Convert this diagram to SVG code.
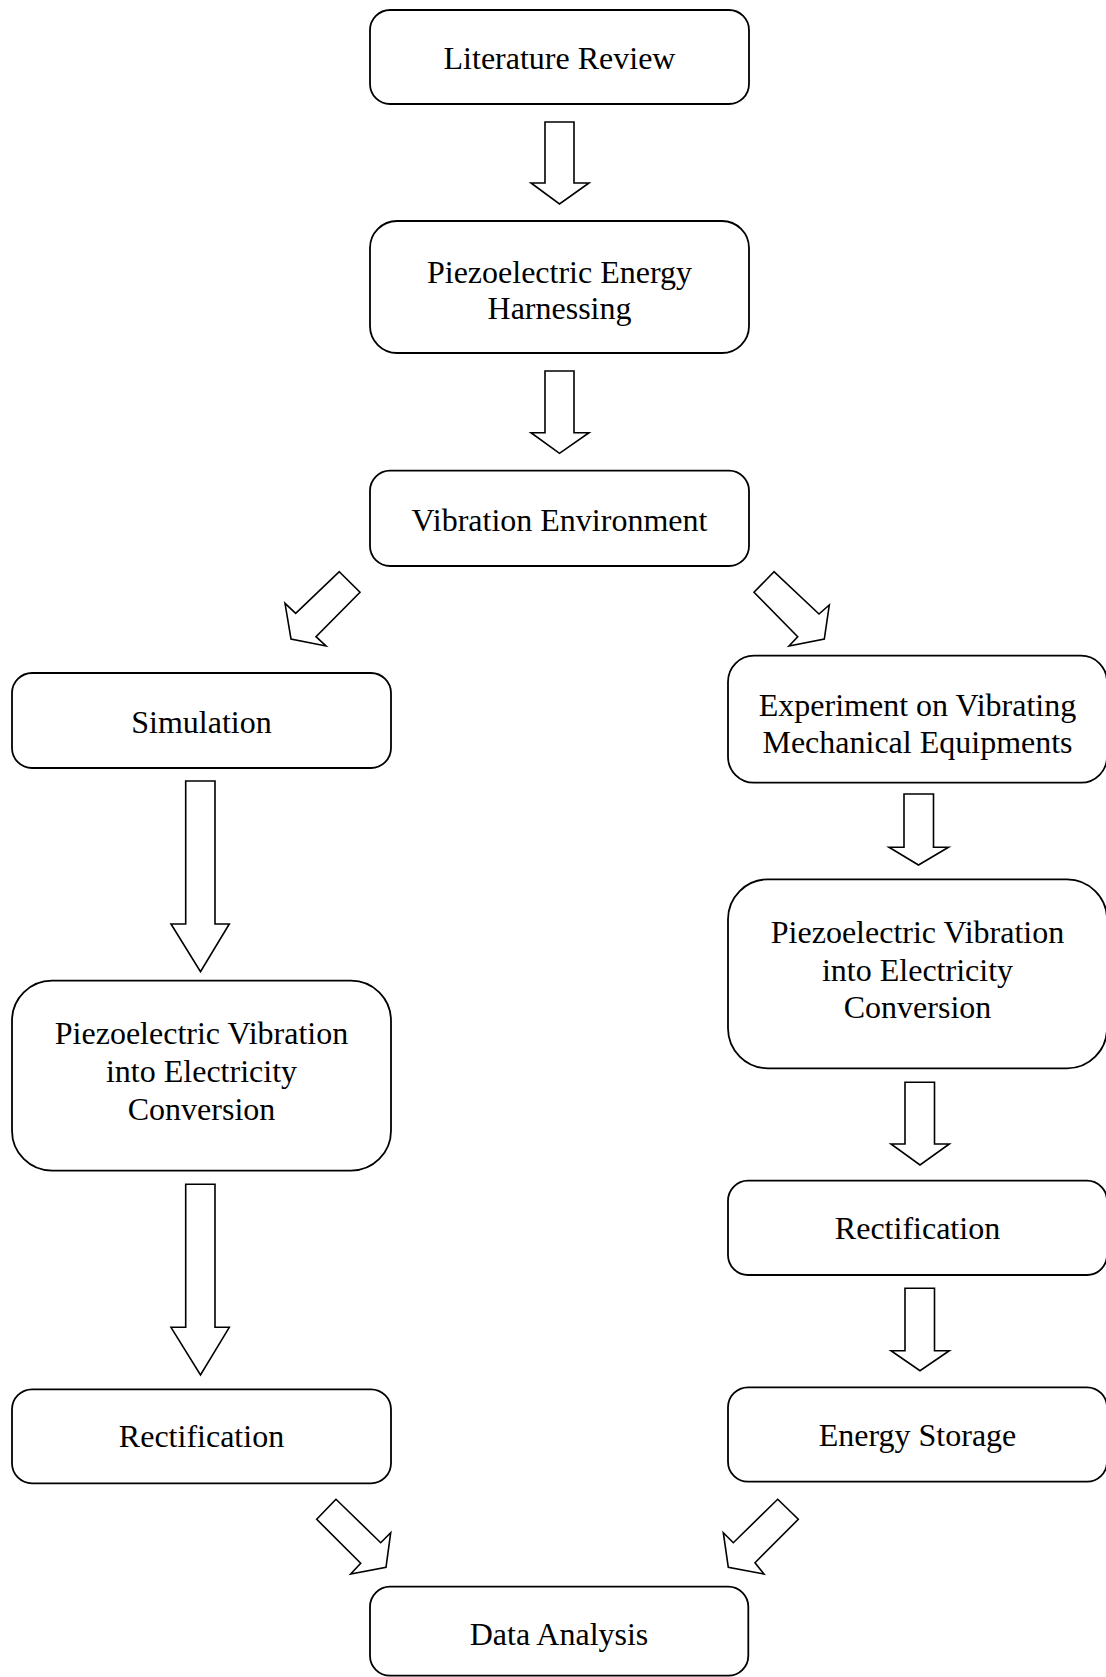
<svg xmlns="http://www.w3.org/2000/svg" width="1106" height="1677" viewBox="0 0 1106 1677">
<style>
.box{fill:#fff;stroke:#000;stroke-width:1.8}
.arr{fill:#fff;stroke:#000;stroke-width:1.6;stroke-linejoin:miter}
text{font-family:"Liberation Serif","Times New Roman",serif;font-size:32px;fill:#000;text-anchor:middle}
</style>
<rect width="1106" height="1677" fill="#fff"/>
<g id="connectors">
<polygon class="arr" points="545,122 574,122 574,183 589,183 559.5,204 531,183 545,183"/>
<polygon class="arr" points="545,371 574,371 574,432.7 589,432.7 559.5,453.3 531,432.7 545,432.7"/>
<polygon class="arr" points="339.3,571.7 360,592.3 316,636.7 326,646 291,639 285,603.3 295.7,613.3"/>
<polygon class="arr" points="774,571.7 754,592.3 797.7,636.7 789,646 824.3,639 829.3,605 819,614"/>
<polygon class="arr" points="185.7,781 215,781 215,924 229.3,924 200.5,971.7 171,924 185.7,924"/>
<polygon class="arr" points="185.7,1184.3 215,1184.3 215,1327.3 229.3,1327.3 200.5,1375 171,1327.3 185.7,1327.3"/>
<polygon class="arr" points="904,794 933.5,794 933.5,847.3 948.5,847.3 918.5,865 889,847.3 904,847.3"/>
<polygon class="arr" points="905,1082.3 934.5,1082.3 934.5,1144 949.3,1144 920,1165 891,1144 905,1144"/>
<polygon class="arr" points="905,1288.3 934.5,1288.3 934.5,1350.7 949.3,1350.7 920,1370.7 891,1350.7 905,1350.7"/>
<polygon class="arr" points="336,1499.3 316.7,1519.3 360.7,1563.3 350.7,1574 386,1567.3 390.7,1532.7 380.7,1542.7"/>
<polygon class="arr" points="777.7,1499.3 798.3,1519.3 755,1562.7 764,1574 728.3,1567.3 723.3,1532.7 733.3,1542.7"/>
</g>
<g id="literature-review">
<rect class="box" x="370" y="10" width="379" height="94" rx="20"/>
<text x="559.5" y="69">Literature Review</text>
</g>
<g id="piezo-energy-harnessing">
<rect class="box" x="370" y="221" width="379" height="132" rx="27"/>
<text x="559.5" y="283">Piezoelectric Energy</text>
<text x="559.5" y="319">Harnessing</text>
</g>
<g id="vibration-environment">
<rect class="box" x="370" y="470.7" width="379" height="95.3" rx="20"/>
<text x="559.5" y="530.7">Vibration Environment</text>
</g>
<g id="simulation">
<rect class="box" x="12" y="673" width="379" height="95" rx="20"/>
<text x="201.5" y="733">Simulation</text>
</g>
<g id="experiment">
<rect class="box" x="728" y="655.7" width="379" height="127" rx="26"/>
<text x="917.5" y="716">Experiment on Vibrating</text>
<text x="917.5" y="753">Mechanical Equipments</text>
</g>
<g id="piezo-conversion-left">
<rect class="box" x="12" y="980.7" width="379" height="190" rx="40"/>
<text x="201.5" y="1044">Piezoelectric Vibration</text>
<text x="201.5" y="1082">into Electricity</text>
<text x="201.5" y="1120">Conversion</text>
</g>
<g id="piezo-conversion-right">
<rect class="box" x="728" y="879.3" width="379" height="189" rx="40"/>
<text x="917.5" y="943">Piezoelectric Vibration</text>
<text x="917.5" y="980.5">into Electricity</text>
<text x="917.5" y="1018">Conversion</text>
</g>
<g id="rectification-right">
<rect class="box" x="728" y="1180.7" width="379" height="94.3" rx="20"/>
<text x="917.5" y="1239.3">Rectification</text>
</g>
<g id="energy-storage">
<rect class="box" x="728" y="1387.3" width="379" height="94.4" rx="20"/>
<text x="917.5" y="1446">Energy Storage</text>
</g>
<g id="rectification-left">
<rect class="box" x="12" y="1389.3" width="379" height="94" rx="20"/>
<text x="201.5" y="1447.3">Rectification</text>
</g>
<g id="data-analysis">
<rect class="box" x="370" y="1586.7" width="378.3" height="89" rx="20"/>
<text x="559" y="1645">Data Analysis</text>
</g>
</svg>
